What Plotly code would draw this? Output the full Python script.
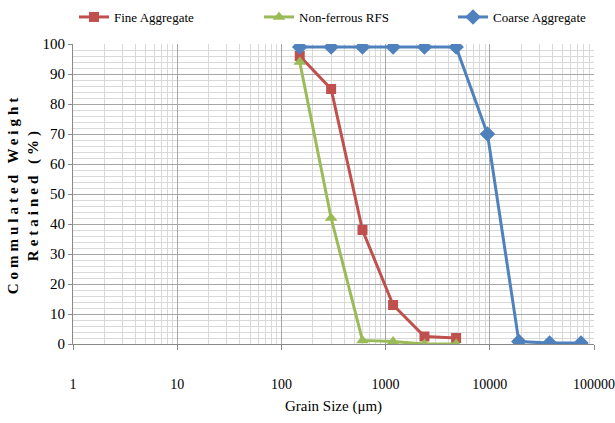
import plotly.graph_objects as go

sizes_fine = [150, 300, 600, 1180, 2360, 4750]
fine_vals = [96, 85, 38, 13, 2.5, 2]
sizes_rfs = [150, 300, 600, 1180, 2360, 4750]
rfs_vals = [94, 42, 1.2, 0.8, 0, 0]
sizes_coarse = [150, 300, 600, 1180, 2360, 4750, 9500, 19000, 37500, 75000]
coarse_vals = [99, 99, 99, 99, 99, 99, 70, 0.8, 0.3, 0.3]

x_tickvals = [1, 10, 100, 1000, 10000, 100000]
x_ticktext = ["1", "10", "100", "1000", "10000", "100000"]

font = "Liberation Serif"

W, H = 615, 423
L, R, T, B = 73, 21, 44, 79
pw = W - L - R

def px2paper(px):
    return (px - L) / pw

fig = go.Figure()
fig.add_trace(go.Scatter(x=sizes_fine, y=fine_vals, name="Fine Aggregate", mode="lines+markers",
                         line=dict(color="#C0504D", width=3),
                         marker=dict(symbol="square", size=10, color="#C0504D"),
                         legend="legend"))
fig.add_trace(go.Scatter(x=sizes_rfs, y=rfs_vals, name="Non-ferrous RFS", mode="lines+markers",
                         line=dict(color="#9BBB59", width=3),
                         marker=dict(symbol="triangle-up", size=11, color="#9BBB59"),
                         legend="legend2"))
fig.add_trace(go.Scatter(x=sizes_coarse, y=coarse_vals, name="Coarse Aggregate", mode="lines+markers",
                         line=dict(color="#4F81BD", width=3),
                         marker=dict(symbol="diamond", size=12, color="#4F81BD"),
                         legend="legend3"))

leg_common = dict(orientation="h", yref="container", y=1 - 17 / H, yanchor="middle",
                  xanchor="left", itemwidth=30, font=dict(family=font, size=13),
                  bgcolor="rgba(0,0,0,0)")

ytitle = ('<span style="letter-spacing:4px;font-weight:bold">Commulated Weight</span><br>'
          '<span style="letter-spacing:4px;font-weight:bold">Retained (%)</span>')

fig.update_layout(
    width=W, height=H,
    margin=dict(l=L, r=R, t=T, b=B, autoexpand=False),
    paper_bgcolor="white", plot_bgcolor="white",
    font=dict(family=font, size=14, color="black"),
    showlegend=True,
    legend=dict(x=px2paper(74), **leg_common),
    legend2=dict(x=px2paper(259), **leg_common),
    legend3=dict(x=px2paper(453), **leg_common),
    xaxis=dict(type="log", range=[0, 5], tickvals=x_tickvals, ticktext=x_ticktext,
               showgrid=True, gridcolor="#A6A6A6", gridwidth=1,
               minor=dict(dtick="D1", showgrid=True, gridcolor="#D9D9D9", gridwidth=1),
               showline=True, linecolor="#888888", ticks="outside", ticklen=5, tickcolor="#888888",
               zeroline=False, ticklabelstandoff=22, ticklabeloverflow="allow",
               tickfont=dict(family=font, size=14),
               title=dict(text="Grain Size (μm)", font=dict(family=font, size=15), standoff=9)),
    yaxis=dict(range=[0, 100], dtick=10, tick0=0,
               showgrid=True, gridcolor="#A6A6A6", gridwidth=1,
               minor=dict(dtick=2, showgrid=True, gridcolor="#D9D9D9", gridwidth=1),
               showline=True, linecolor="#888888", ticks="outside", ticklen=4, tickcolor="#888888",
               zeroline=False, tickfont=dict(family=font, size=15),
               title=dict(text=ytitle, font=dict(family=font, size=15), standoff=0)),
)

fig.write_html("out.html", config={"displayModeBar": False},
               post_script="document.body.style.margin='0';document.body.style.overflow='hidden';")
